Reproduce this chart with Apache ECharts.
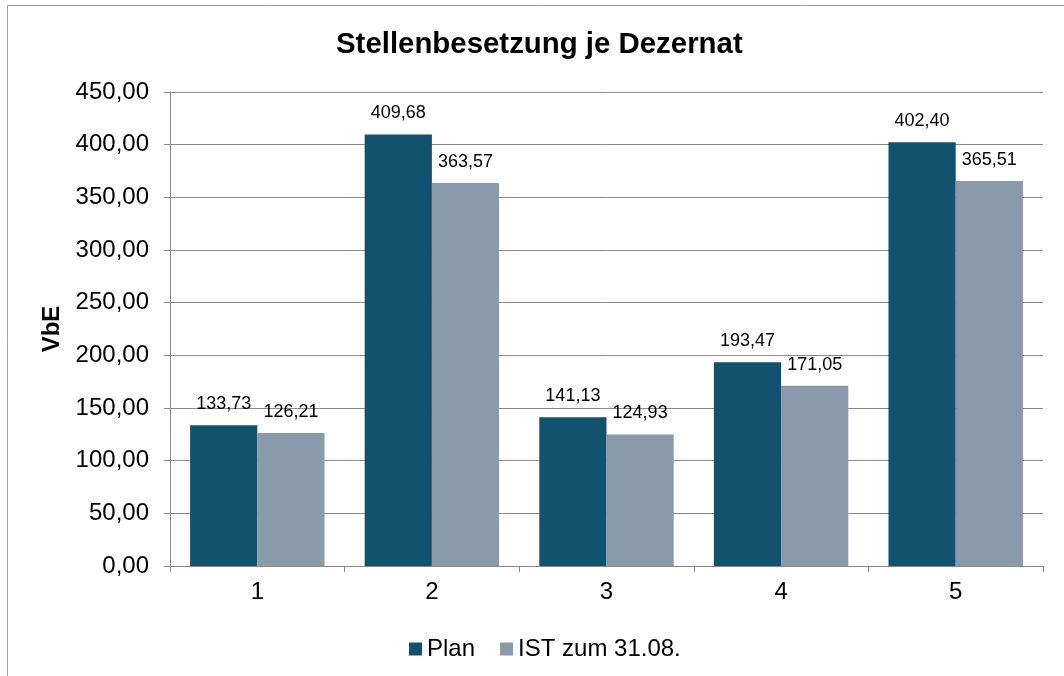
<!DOCTYPE html>
<html>
<head>
<meta charset="utf-8">
<script src="https://cdn.jsdelivr.net/npm/echarts@6/dist/echarts.min.js"></script>
<style>
  html, body { margin: 0; padding: 0; background: #fff; }
  #chart { width: 1064px; height: 676px; }
</style>
</head>
<body>
<div id="chart"></div>
<script>
// Daten je Dezernat
var categories = ["1", "2", "3", "4", "5"];
var planValues = [133.73, 409.68, 141.13, 193.47, 402.40];
var istValues = [126.21, 363.57, 124.93, 171.05, 365.51];
var seriesNames = ["Plan", "IST zum 31.08."];

function deNum(v) {
  return Number(v).toFixed(2).replace(".", ",");
}

var chart = echarts.init(document.getElementById("chart"));
var font = "Liberation Sans, Arial, sans-serif";
var gridColor = "#8a8a8a";

var option = {
  backgroundColor: "#fff",
  textStyle: { fontFamily: font },
  animation: false,
  graphic: [{
    type: "rect",
    shape: { x: 7.5, y: 5.5, width: 1100, height: 700 },
    style: { fill: "none", stroke: "#a0a0a0", lineWidth: 1 },
    silent: true
  }],
  title: {
    text: "Stellenbesetzung je Dezernat",
    left: 331,
    top: 25,
    textStyle: { fontFamily: font, fontSize: 29.4, fontWeight: "bold", color: "#000" }
  },
  legend: {
    data: seriesNames,
    top: 632,
    left: 404,
    itemWidth: 13,
    itemHeight: 13,
    itemGap: 25,
    icon: "rect",
    textStyle: { fontFamily: font, fontSize: 24, color: "#000" }
  },
  grid: { left: 170, right: 21, top: 92, bottom: 110 },
  xAxis: {
    type: "category",
    data: categories,
    axisLine: { lineStyle: { color: gridColor, width: 1 } },
    axisTick: { show: true, length: 6, lineStyle: { color: gridColor } },
    axisLabel: { fontFamily: font, fontSize: 24, color: "#000", margin: 14 }
  },
  yAxis: {
    type: "value",
    min: 0,
    max: 450,
    interval: 50,
    name: "VbE",
    nameLocation: "middle",
    nameGap: 101,
    nameTextStyle: { fontFamily: font, fontSize: 24, fontWeight: "bold", color: "#000" },
    axisLine: { show: true, lineStyle: { color: gridColor, width: 1 } },
    axisTick: { show: true, length: 6, lineStyle: { color: gridColor } },
    splitLine: { show: true, lineStyle: { color: gridColor, width: 1 } },
    axisLabel: {
      fontFamily: font, fontSize: 24, color: "#000", margin: 21,
      formatter: function (v) { return deNum(v); }
    }
  },
  series: [
    {
      name: seriesNames[0],
      type: "bar",
      data: planValues,
      barGap: "0%",
      barCategoryGap: "23%",
      itemStyle: { color: "#12526f" },
      label: {
        show: true, position: "top", distance: 12,
        fontFamily: font, fontSize: 18, color: "#000",
        formatter: function (p) { return deNum(p.value); }
      }
    },
    {
      name: seriesNames[1],
      type: "bar",
      data: istValues,
      itemStyle: { color: "#899bab" },
      label: {
        show: true, position: "top", distance: 12,
        fontFamily: font, fontSize: 18, color: "#000",
        formatter: function (p) { return deNum(p.value); }
      }
    }
  ]
};

chart.setOption(option);
</script>
</body>
</html>
